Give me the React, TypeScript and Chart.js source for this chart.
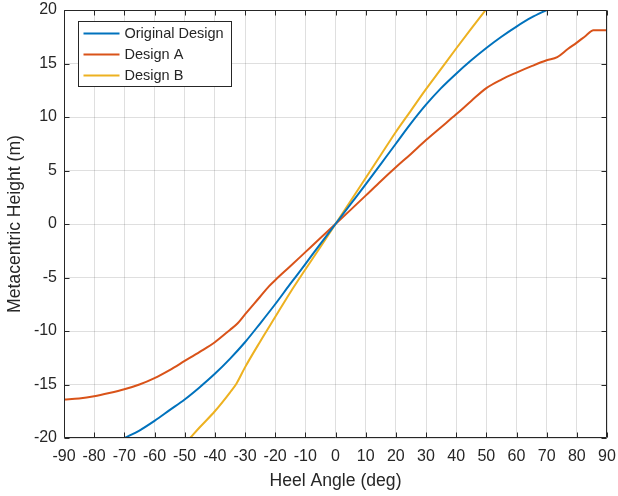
import { useEffect, useRef } from 'react';
import { Chart, registerables } from 'chart.js';

Chart.register(...registerables);

// ---------- data ----------
const originalAngles = [-70, -65, -60, -55, -50, -45, -40, -35, -30, -25, -20, -15, -10, -5, 0, 5, 10, 15, 20, 25, 30, 35, 40, 45, 50, 55, 60, 65, 70];
const originalValues = [-20, -19.3, -18.4, -17.4, -16.4, -15.25, -14.0, -12.6, -11.05, -9.3, -7.5, -5.6, -3.75, -1.85, 0, 1.85, 3.7, 5.6, 7.5, 9.4, 11.15, 12.7, 14.05, 15.3, 16.45, 17.5, 18.45, 19.3, 20];

const designAAngles = [-90, -85, -80, -75, -70, -65, -60, -55, -50, -45, -40, -35, -32.5, -30, -25, -22, -20, -15, -10, -5, 0, 5, 10, 15, 20, 25, 30, 35, 40, 45, 50, 55, 60, 65, 70, 73.5, 77, 80, 83, 85.5, 90];
const designAValues = [-16.4, -16.3, -16.1, -15.8, -15.45, -15.0, -14.4, -13.65, -12.8, -11.95, -11.05, -9.9, -9.3, -8.45, -6.8, -5.8, -5.25, -3.95, -2.63, -1.31, 0, 1.32, 2.65, 4.0, 5.3, 6.55, 7.85, 9.05, 10.25, 11.5, 12.7, 13.5, 14.15, 14.75, 15.3, 15.6, 16.35, 16.95, 17.6, 18.1, 18.1];

const designBAngles = [-48.2, -45, -40, -35, -32.8, -30, -25, -20, -15, -10, -5, 0, 5, 10, 15, 20, 25, 30, 35, 40, 45, 49.8];
const designBValues = [-20, -19.0, -17.5, -15.75, -14.9, -13.4, -11.0, -8.7, -6.4, -4.25, -2.15, 0, 2.15, 4.3, 6.45, 8.6, 10.6, 12.6, 14.5, 16.4, 18.25, 20];

const seriesLabels = ['Original Design', 'Design A', 'Design B'];
const seriesColors = ['#0072BD', '#D95319', '#EDB120'];

const xTicks = [-90, -80, -70, -60, -50, -40, -30, -20, -10, 0, 10, 20, 30, 40, 50, 60, 70, 80, 90];
const yTicks = [-20, -15, -10, -5, 0, 5, 10, 15, 20];

const xTitle = 'Heel Angle (deg)';
const yTitle = 'Metacentric Height (m)';

// ---------- style ----------
const FONT = '"Liberation Sans", Arial, Helvetica, sans-serif';
const AXIS_COLOR = '#262626';
const GRID_COLOR = 'rgba(38,38,38,0.15)';

const toPoints = (xs: number[], ys: number[]) => xs.map((x, i) => ({ x, y: ys[i] }));

const framePlugin = {
  id: 'matlabFrame',
  afterDatasetsDraw(chart: any) {
    const { ctx, chartArea, scales } = chart;
    const l = Math.round(chartArea.left) + 0.5;
    const r = Math.round(chartArea.right) - 0.5;
    const t = Math.round(chartArea.top) + 0.5;
    const b = Math.round(chartArea.bottom) - 0.5;
    ctx.save();
    ctx.strokeStyle = AXIS_COLOR;
    ctx.lineWidth = 1;
    ctx.beginPath();
    ctx.moveTo(l, t);
    ctx.lineTo(r, t);
    ctx.lineTo(r, b);
    ctx.lineTo(l, b);
    ctx.closePath();
    ctx.stroke();
    const tl = 5;
    ctx.beginPath();
    for (const v of xTicks) {
      const px = Math.round(scales.x.getPixelForValue(v)) + 0.5;
      ctx.moveTo(px, b);
      ctx.lineTo(px, b - tl);
      ctx.moveTo(px, t);
      ctx.lineTo(px, t + tl);
    }
    for (const v of yTicks) {
      const py = Math.round(scales.y.getPixelForValue(v)) + 0.5;
      ctx.moveTo(l, py);
      ctx.lineTo(l + tl, py);
      ctx.moveTo(r, py);
      ctx.lineTo(r - tl, py);
    }
    ctx.stroke();
    ctx.restore();
  },
  afterDraw(chart: any) {
    const { ctx, chartArea } = chart;
    const bx = Math.round(chartArea.left + 14) + 0.5;
    const by = Math.round(chartArea.top + 11) + 0.5;
    const bw = 153;
    const bh = 65;
    ctx.save();
    ctx.fillStyle = '#ffffff';
    ctx.fillRect(bx, by, bw, bh);
    ctx.strokeStyle = AXIS_COLOR;
    ctx.lineWidth = 1;
    ctx.strokeRect(bx, by, bw, bh);
    ctx.font = `14.5px ${FONT}`;
    ctx.textBaseline = 'middle';
    ctx.textAlign = 'left';
    chart.data.datasets.forEach((ds: any, i: number) => {
      const cy = by + 12 + i * 21;
      ctx.strokeStyle = ds.borderColor;
      ctx.lineWidth = 2;
      ctx.beginPath();
      ctx.moveTo(bx + 5, cy);
      ctx.lineTo(bx + 41, cy);
      ctx.stroke();
      ctx.fillStyle = AXIS_COLOR;
      ctx.fillText(ds.label, bx + 46, cy + 0.5);
    });
    ctx.restore();
  },
};

export default function App() {
  const canvasRef = useRef<HTMLCanvasElement | null>(null);

  useEffect(() => {
    const canvas = canvasRef.current;
    if (!canvas) return;
    const seriesData = [
      toPoints(originalAngles, originalValues),
      toPoints(designAAngles, designAValues),
      toPoints(designBAngles, designBValues),
    ];
    const chart = new Chart(canvas, {
      type: 'line',
      data: {
        datasets: seriesData.map((data, i) => ({
          label: seriesLabels[i],
          data,
          borderColor: seriesColors[i],
          backgroundColor: seriesColors[i],
          borderWidth: 2,
          pointRadius: 0,
          fill: false,
          cubicInterpolationMode: 'monotone' as const,
        })),
      },
      options: {
        responsive: false,
        animation: false,
        devicePixelRatio: 1,
        layout: { padding: { top: 10, right: 11, left: 0, bottom: 0 } },
        plugins: {
          legend: { display: false },
          tooltip: { enabled: false },
        },
        scales: {
          x: {
            type: 'linear',
            min: -90,
            max: 90,
            afterBuildTicks: (s: any) => {
              s.ticks = xTicks.map((v) => ({ value: v }));
            },
            afterFit: (s: any) => {
              s.height = 58;
              s.paddingLeft = 0;
              s.paddingRight = 0;
            },
            ticks: {
              autoSkip: false,
              maxRotation: 0,
              padding: 9,
              color: AXIS_COLOR,
              font: { family: FONT, size: 16 },
              callback: (v: any) => String(v),
            },
            grid: { color: GRID_COLOR, drawTicks: false, lineWidth: 1 },
            border: { display: false },
            title: {
              display: true,
              text: xTitle,
              color: AXIS_COLOR,
              font: { family: FONT, size: 17.6 },
              padding: { top: 0, bottom: 4 },
            },
          },
          y: {
            type: 'linear',
            min: -20,
            max: 20,
            afterBuildTicks: (s: any) => {
              s.ticks = yTicks.map((v) => ({ value: v }));
            },
            afterFit: (s: any) => {
              s.width = 64;
              s.paddingTop = 0;
              s.paddingBottom = 0;
            },
            ticks: {
              autoSkip: false,
              padding: 7,
              color: AXIS_COLOR,
              font: { family: FONT, size: 16 },
              callback: (v: any) => String(v),
            },
            grid: { color: GRID_COLOR, drawTicks: false, lineWidth: 1 },
            border: { display: false },
            title: {
              display: true,
              text: yTitle,
              color: AXIS_COLOR,
              font: { family: FONT, size: 17.6 },
              padding: { top: 5, bottom: 0 },
            },
          },
        },
      },
      plugins: [framePlugin],
    });
    return () => chart.destroy();
  }, []);

  return (
    <div style={{ position: 'absolute', left: 0, top: 0, width: 618, height: 496, background: '#fff' }}>
      <canvas ref={canvasRef} width={618} height={496} style={{ display: 'block' }} />
    </div>
  );
}
